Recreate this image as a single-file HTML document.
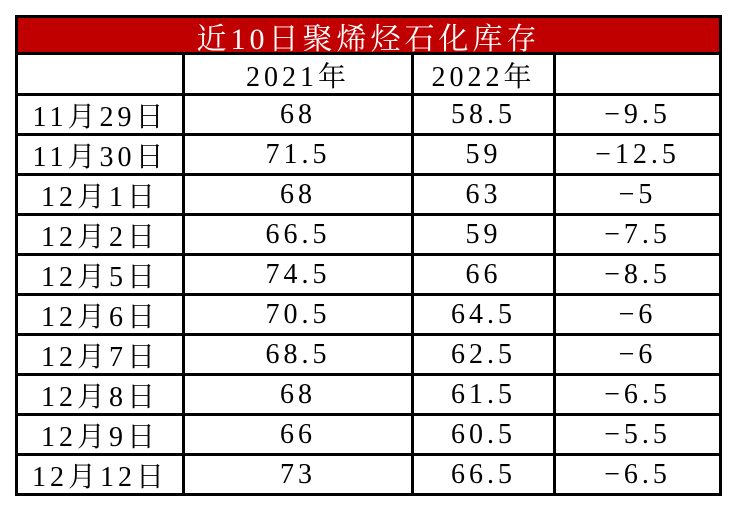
<!DOCTYPE html>
<html><head><meta charset="utf-8"><style>
body{margin:0;background:#fff;width:736px;height:512px;overflow:hidden;}
.g{position:absolute;left:15px;top:15px;display:grid;background:#000;padding:3px;gap:3px;
grid-template-columns:164px 226px 139px 163px;grid-template-rows:34px 38px repeat(10,37px);}
.g div{background:#fff;display:flex;align-items:center;justify-content:center;
font-family:"Liberation Serif","Noto Serif CJK SC",serif;font-size:28px;letter-spacing:4px;color:#000;white-space:nowrap;padding-top:1px;}
.g .t{grid-column:1/5;background:#c00000;color:#fff;letter-spacing:4px;font-size:30px;font-family:"Liberation Serif","Noto Serif CJK SC",serif;}
</style></head><body>
<div class="g">
<div class="t">近10日聚烯烃石化库存</div>
<div></div><div>2021年</div><div>2022年</div><div></div>
<div>11月29日</div><div>68</div><div>58.5</div><div>−9.5</div>
<div>11月30日</div><div>71.5</div><div>59</div><div>−12.5</div>
<div>12月1日</div><div>68</div><div>63</div><div>−5</div>
<div>12月2日</div><div>66.5</div><div>59</div><div>−7.5</div>
<div>12月5日</div><div>74.5</div><div>66</div><div>−8.5</div>
<div>12月6日</div><div>70.5</div><div>64.5</div><div>−6</div>
<div>12月7日</div><div>68.5</div><div>62.5</div><div>−6</div>
<div>12月8日</div><div>68</div><div>61.5</div><div>−6.5</div>
<div>12月9日</div><div>66</div><div>60.5</div><div>−5.5</div>
<div>12月12日</div><div>73</div><div>66.5</div><div>−6.5</div>
</div>
</body></html>
